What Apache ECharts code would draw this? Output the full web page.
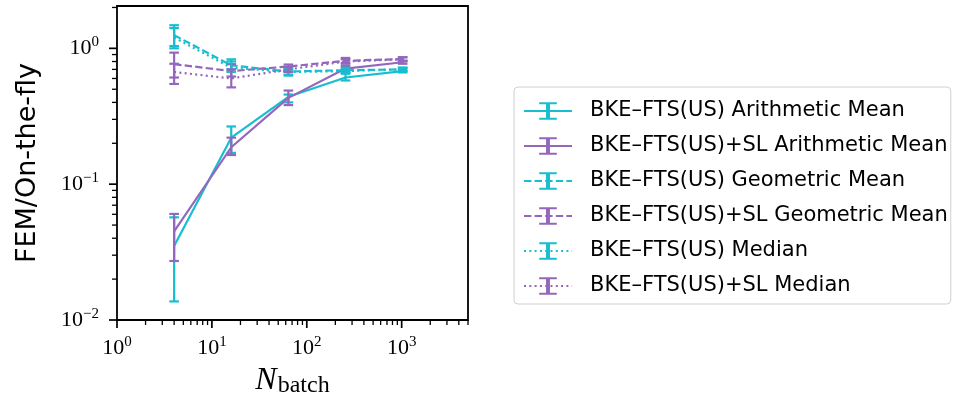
<!DOCTYPE html>
<html>
<head>
<meta charset="utf-8">
<script src="https://cdn.jsdelivr.net/npm/echarts@6/dist/echarts.min.js"></script>
<style>
html,body{margin:0;padding:0;background:#fff;}
#chart{width:953px;height:403px;}
</style>
</head>
<body>
<div id="chart"></div>
<script>
// ---- data ----
const nbatch = [4, 16, 64, 256, 1024];

const seriesNames = [
  'BKE\u2013FTS(US) Arithmetic Mean',
  'BKE\u2013FTS(US)+SL Arithmetic Mean',
  'BKE\u2013FTS(US) Geometric Mean',
  'BKE\u2013FTS(US)+SL Geometric Mean',
  'BKE\u2013FTS(US) Median',
  'BKE\u2013FTS(US)+SL Median'
];

const usArith   = [0.035, 0.22, 0.44, 0.61, 0.68];
const usArithLo = [0.0137, 0.17, 0.40, 0.58, 0.665];
const usArithHi = [0.057, 0.266, 0.457, 0.65, 0.70];

const slArith   = [0.045, 0.187, 0.432, 0.71, 0.79];
const slArithLo = [0.0272, 0.164, 0.382, 0.68, 0.77];
const slArithHi = [0.0604, 0.22, 0.489, 0.74, 0.81];

const usGeo   = [1.25, 0.75, 0.675, 0.69, 0.70];
const usGeoLo = [1.0, 0.70, 0.63, 0.66, 0.68];
const usGeoHi = [1.48, 0.83, 0.70, 0.72, 0.72];

const slGeo   = [0.765, 0.68, 0.735, 0.81, 0.835];
const slGeoLo = [0.61, 0.62, 0.70, 0.78, 0.81];
const slGeoHi = [0.93, 0.765, 0.76, 0.85, 0.86];

const usMed   = [1.2, 0.72, 0.67, 0.68, 0.70];
const usMedLo = [1.04, 0.67, 0.64, 0.66, 0.68];
const usMedHi = [1.41, 0.80, 0.70, 0.71, 0.72];

const slMed   = [0.67, 0.60, 0.70, 0.80, 0.83];
const slMedLo = [0.547, 0.516, 0.67, 0.77, 0.80];
const slMedHi = [0.77, 0.70, 0.73, 0.83, 0.86];

// axis ranges and tick values
const xMin = 1, xMax = 5000;
const yMin = 0.01, yMax = 2.05;
const xMajorTicks = [1, 10, 100, 1000];
const xMinorTicks = [2,3,4,5,6,7,8,9, 20,30,40,50,60,70,80,90, 200,300,400,500,600,700,800,900, 2000,3000,4000,5000];
const yMajorTicks = [0.01, 0.1, 1];
const yMinorTicks = [0.02,0.03,0.04,0.05,0.06,0.07,0.08,0.09, 0.2,0.3,0.4,0.5,0.6,0.7,0.8,0.9, 2];

// ---- styling ----
const CYAN = '#17becf', PURPLE = '#9467bd';
const colors = [CYAN, PURPLE, CYAN, PURPLE, CYAN, PURPLE];
const dashes = ['solid', 'solid', [7.4, 3.2], [7.4, 3.2], [2, 3.3], [2, 3.3]];
const means = [usArith, slArith, usGeo, slGeo, usMed, slMed];
const los = [usArithLo, slArithLo, usGeoLo, slGeoLo, usMedLo, slMedLo];
const his = [usArithHi, slArithHi, usGeoHi, slGeoHi, usMedHi, slMedHi];
const ERR_SYMBOL = 'path://M0 0H9V2H5.5V16H9V18H0V16H3.5V2H0Z';
const LW = 2.2;

const series = [];
seriesNames.forEach((name, i) => {
  series.push({
    type: 'line', name: name,
    data: nbatch.map((x, j) => [x, means[i][j]]),
    symbol: ERR_SYMBOL, showSymbol: false, symbolKeepAspect: true,
    color: colors[i],
    lineStyle: { color: colors[i], width: LW, type: dashes[i] },
    itemStyle: { color: colors[i] },
    z: 3 + i
  });
  series.push({
    type: 'custom', name: name,
    data: nbatch.map((x, j) => [x, los[i][j], his[i][j]]),
    encode: { x: 0, y: [1, 2] },
    color: colors[i],
    itemStyle: { color: colors[i] },
    clip: false,
    z: 3 + i,
    renderItem: (params, api) => {
      const x = api.value(0);
      const pLo = api.coord([x, api.value(1)]);
      const pHi = api.coord([x, api.value(2)]);
      const c = colors[i], hw = 4.8, lw = LW;
      return {
        type: 'group',
        children: [
          { type: 'line', shape: { x1: pLo[0], y1: pLo[1], x2: pHi[0], y2: pHi[1] }, style: { stroke: c, lineWidth: lw } },
          { type: 'line', shape: { x1: pLo[0] - hw, y1: pLo[1], x2: pLo[0] + hw, y2: pLo[1] }, style: { stroke: c, lineWidth: lw } },
          { type: 'line', shape: { x1: pHi[0] - hw, y1: pHi[1], x2: pHi[0] + hw, y2: pHi[1] }, style: { stroke: c, lineWidth: lw } }
        ]
      };
    }
  });
});

// tick marks drawn through the axis scales
function tickSeries(values, isX, len, lw) {
  return {
    type: 'custom', silent: true, clip: false, z: 10,
    data: values.map(v => isX ? [v, yMin] : [xMin, v]),
    encode: { x: 0, y: 1 },
    renderItem: (params, api) => {
      const p = api.coord([api.value(0), api.value(1)]);
      const shape = isX ? { x1: p[0], y1: p[1], x2: p[0], y2: p[1] + len }
                        : { x1: p[0], y1: p[1], x2: p[0] - len, y2: p[1] };
      return { type: 'line', shape: shape, style: { stroke: '#000', lineWidth: lw } };
    }
  };
}
series.push(tickSeries(xMajorTicks, true, 8, 1.7));
series.push(tickSeries(xMinorTicks, true, 5, 1.3));
series.push(tickSeries(yMajorTicks, false, 8, 1.7));
series.push(tickSeries(yMinorTicks, false, 5, 1.3));

function powLabel(v) {
  const k = Math.log10(v);
  const r = Math.round(k);
  if (Math.abs(k - r) > 1e-6) return '';
  return '10{sup|' + (r < 0 ? '\u2212' + (-r) : String(r)) + '}';
}
const labelRich = { sup: { fontSize: 15, fontFamily: 'Liberation Serif', color: '#000', padding: [0, 0, 12, 0] } };

const chart = echarts.init(document.getElementById('chart'), null, { renderer: 'canvas' });
chart.setOption({
  animation: false,
  backgroundColor: '#fff',
  grid: {
    left: 117, top: 6, width: 351, height: 316.7,
    show: true, borderColor: '#000', borderWidth: 1.8, backgroundColor: 'transparent'
  },
  xAxis: {
    type: 'log', logBase: 10, min: xMin, max: xMax,
    axisLine: { show: false }, axisTick: { show: false }, splitLine: { show: false }, minorTick: { show: false },
    axisLabel: {
      margin: 15, formatter: powLabel, rich: labelRich,
      fontFamily: 'Liberation Serif', fontSize: 22, color: '#000', showMinLabel: true, showMaxLabel: true
    },
    name: '{n|N}{s|batch}', nameLocation: 'middle', nameGap: 43,
    nameTextStyle: {
      rich: {
        n: { fontFamily: 'Liberation Serif', fontStyle: 'italic', fontSize: 32, color: '#000' },
        s: { fontFamily: 'Liberation Serif', fontSize: 24, color: '#000', padding: [11, 0, 0, 1] }
      }
    }
  },
  yAxis: {
    type: 'log', logBase: 10, min: yMin, max: yMax,
    axisLine: { show: false }, axisTick: { show: false }, splitLine: { show: false }, minorTick: { show: false },
    axisLabel: {
      margin: 18, formatter: powLabel, rich: labelRich,
      fontFamily: 'Liberation Serif', fontSize: 22, color: '#000', showMinLabel: true, showMaxLabel: true
    },
    name: 'FEM/On-the-fly', nameLocation: 'middle', nameGap: 76,
    nameTextStyle: { fontFamily: 'DejaVu Sans', fontSize: 27, color: '#000' }
  },
  legend: {
    orient: 'vertical', left: 514, top: 87,
    padding: [13, 3, 7, 9],
    itemGap: 13, itemWidth: 48, itemHeight: 22,
    borderColor: '#d0d0d0', borderWidth: 1, borderRadius: 4, backgroundColor: '#fff',
    symbolKeepAspect: true,
    selectedMode: false,
    textStyle: { fontFamily: 'DejaVu Sans', fontSize: 21, color: '#000', lineHeight: 22, padding: [0, 0, 0, 13] },
    data: seriesNames.map(n => ({ name: n }))
  },
  series: series
});
</script>
</body>
</html>
